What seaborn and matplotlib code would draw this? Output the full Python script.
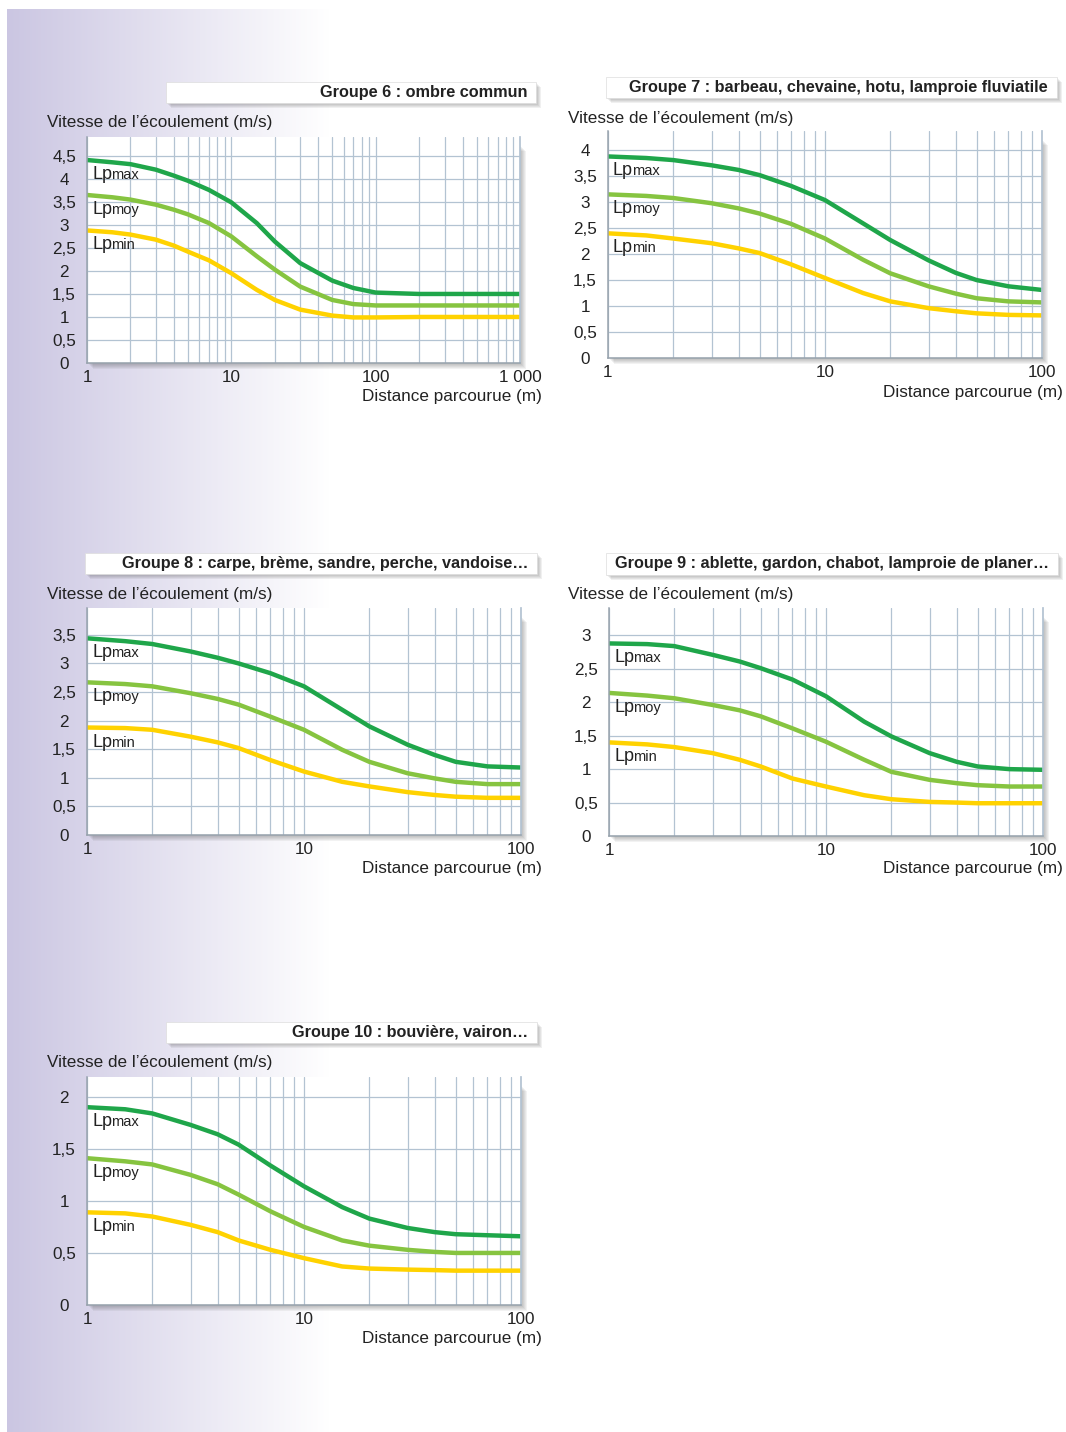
import numpy as np
import matplotlib
matplotlib.use('Agg')
import matplotlib.pyplot as plt
from matplotlib.patches import Rectangle
from matplotlib.ticker import FixedLocator, NullFormatter
import seaborn as sns

# ---- data (speed in m/s vs distance in m) ----
X_1000 = [1, 1.5, 2, 3, 4, 5, 7, 10, 15, 20, 30, 50, 70, 100, 200, 1000]
G6_MAX = [4.41, 4.36, 4.32, 4.20, 4.07, 3.96, 3.76, 3.49, 3.04, 2.64, 2.17, 1.79, 1.63, 1.53, 1.50, 1.50]
G6_MOY = [3.65, 3.60, 3.55, 3.44, 3.33, 3.23, 3.04, 2.75, 2.32, 2.03, 1.66, 1.37, 1.28, 1.25, 1.25, 1.25]
G6_MIN = [2.88, 2.84, 2.79, 2.68, 2.55, 2.42, 2.23, 1.95, 1.59, 1.37, 1.16, 1.03, 0.99, 0.99, 1.00, 1.00]

X_100 = [1, 1.5, 2, 3, 4, 5, 7, 10, 15, 20, 30, 40, 50, 70, 100]
G7_MAX = [3.88, 3.85, 3.81, 3.71, 3.62, 3.52, 3.31, 3.04, 2.59, 2.27, 1.88, 1.64, 1.50, 1.38, 1.31]
G7_MOY = [3.15, 3.12, 3.08, 2.98, 2.88, 2.78, 2.58, 2.30, 1.89, 1.63, 1.38, 1.24, 1.15, 1.09, 1.07]
G7_MIN = [2.40, 2.36, 2.30, 2.21, 2.11, 2.02, 1.80, 1.54, 1.25, 1.09, 0.96, 0.90, 0.86, 0.83, 0.82]

G8_MAX = [3.44, 3.39, 3.34, 3.21, 3.10, 3.00, 2.83, 2.60, 2.19, 1.90, 1.58, 1.40, 1.28, 1.20, 1.18]
G8_MOY = [2.67, 2.64, 2.60, 2.48, 2.38, 2.28, 2.07, 1.84, 1.49, 1.28, 1.08, 0.99, 0.93, 0.89, 0.89]
G8_MIN = [1.88, 1.87, 1.84, 1.72, 1.62, 1.52, 1.31, 1.11, 0.93, 0.85, 0.75, 0.70, 0.67, 0.65, 0.65]

G9_MAX = [2.88, 2.87, 2.84, 2.71, 2.61, 2.51, 2.34, 2.09, 1.71, 1.49, 1.24, 1.11, 1.04, 1.00, 0.99]
G9_MOY = [2.14, 2.10, 2.06, 1.96, 1.88, 1.79, 1.61, 1.41, 1.14, 0.96, 0.84, 0.79, 0.76, 0.74, 0.74]
G9_MIN = [1.40, 1.37, 1.33, 1.24, 1.14, 1.04, 0.86, 0.74, 0.61, 0.55, 0.51, 0.50, 0.49, 0.49, 0.49]

G10_MAX = [1.90, 1.88, 1.84, 1.73, 1.64, 1.54, 1.34, 1.14, 0.94, 0.83, 0.74, 0.70, 0.68, 0.67, 0.66]
G10_MOY = [1.41, 1.38, 1.35, 1.25, 1.16, 1.06, 0.90, 0.75, 0.62, 0.57, 0.53, 0.51, 0.50, 0.50, 0.50]
G10_MIN = [0.89, 0.88, 0.85, 0.77, 0.70, 0.62, 0.53, 0.45, 0.37, 0.35, 0.34, 0.335, 0.33, 0.33, 0.33]

TITLES = ['Groupe 6 : ombre commun',
          'Groupe 7 : barbeau, chevaine, hotu, lamproie fluviatile',
          'Groupe 8 : carpe, brème, sandre, perche, vandoise…',
          'Groupe 9 : ablette, gardon, chabot, lamproie de planer…',
          'Groupe 10 : bouvière, vairon…']
Y_TICK_MAX = [4.5, 4.0, 3.5, 3.0, 2.0]
CURVE_NAMES = ['max', 'moy', 'min']
YLABEL = 'Vitesse de l’écoulement (m/s)'
XLABEL = 'Distance parcourue (m)'

# ---- style ----
sns.set_theme(style='white')
plt.rcParams['font.family'] = ['Liberation Sans', 'DejaVu Sans']
COLORS = ['#1fa64a', '#86c440', '#ffd200']
GRID = '#b3c3d2'
TXT = '#222222'
FS = 12.3

W, H = 1066, 1432
fig = plt.figure(figsize=(W / 100, H / 100), dpi=100)


def fx(x):
    return x / W


def fy(y):
    return 1 - y / H


def shadow(x0, y0, x1, y1, n=6, alpha=0.065):
    # soft drop shadow, offset down/right
    for k in range(1, n + 1):
        fig.add_artist(Rectangle((fx(x0 + k), fy(y1 + k)), (x1 - x0) / W, (y1 - y0) / H,
                                 transform=fig.transFigure, facecolor='#444444',
                                 edgecolor='none', alpha=alpha, zorder=-5))


# lavender background band on the left
bg = fig.add_axes([fx(7), 0, fx(330) - fx(7), fy(9)])
bg.set_zorder(-10)
t = np.linspace(0, 1, 300)
lav = np.array([203, 198, 226]) / 255
grad = lav[None, :] * (1 - t[:, None]) + np.ones(3)[None, :] * t[:, None]
bg.imshow(grad[None, :, :], aspect='auto', extent=[0, 1, 0, 1])
bg.axis('off')

# panel geometry in pixels: axes (left, top, right, bottom), ylim top,
# title box (left, top, right, bottom), ylabel (x, y), xlabel (x, y)
panels = [
    dict(ax=(87, 137, 520, 363), ytop=4.91, box=(166, 82, 536, 103), ylab=(47, 123), xlab=(542, 397),
         x=X_1000, ys=[G6_MAX, G6_MOY, G6_MIN], xmax=1000),
    dict(ax=(608, 131, 1042, 358), ytop=4.37, box=(606, 77, 1057, 98), ylab=(568, 118), xlab=(1063, 392),
         x=X_100, ys=[G7_MAX, G7_MOY, G7_MIN], xmax=100),
    dict(ax=(87, 608, 521, 835), ytop=3.97, box=(85, 553, 537, 574), ylab=(47, 595), xlab=(542, 868),
         x=X_100, ys=[G8_MAX, G8_MOY, G8_MIN], xmax=100),
    dict(ax=(609, 608, 1043, 836), ytop=3.41, box=(606, 553, 1058, 575), ylab=(568, 595), xlab=(1063, 868),
         x=X_100, ys=[G9_MAX, G9_MOY, G9_MIN], xmax=100),
    dict(ax=(87, 1077, 521, 1305), ytop=2.19, box=(166, 1022, 537, 1043), ylab=(47, 1063), xlab=(542, 1338),
         x=X_100, ys=[G10_MAX, G10_MOY, G10_MIN], xmax=100),
]

for i, p in enumerate(panels):
    l, tp, r, b = p['ax']
    shadow(l, tp + 8, r, b, n=6)
    ax = fig.add_axes([fx(l), fy(b), (r - l) / W, (b - tp) / H])
    ax.set_facecolor('white')
    ax.set_xscale('log')
    ax.set_xlim(1, p['xmax'])
    ax.set_ylim(0, p['ytop'])

    majors = [1, 10, 100] + ([1000] if p['xmax'] == 1000 else [])
    minors = [m * d for d in majors[:-1] for m in range(2, 10)]
    ax.xaxis.set_major_locator(FixedLocator(majors))
    ax.xaxis.set_minor_locator(FixedLocator(minors))
    ax.xaxis.set_minor_formatter(NullFormatter())
    ax.set_xticklabels(['1', '10', '100', '1 000'][:len(majors)])
    yt = np.arange(0, Y_TICK_MAX[i] + 0.01, 0.5)
    ax.set_yticks(yt)
    ax.set_yticklabels([f'{v:g}'.replace('.', ',') for v in yt])

    ax.grid(True, which='both', axis='x', color=GRID, lw=0.9)
    ax.grid(True, which='major', axis='y', color=GRID, lw=0.9)
    ax.set_axisbelow(True)
    ax.tick_params(which='both', length=0, labelsize=FS, labelcolor=TXT)
    ax.tick_params(axis='x', pad=5)
    ax.tick_params(axis='y', pad=16.5)
    for lab in ax.get_yticklabels():
        lab.set_ha('center')
    ax.spines['top'].set_visible(False)
    ax.spines['right'].set_color(GRID)
    for s in ['left', 'bottom']:
        ax.spines[s].set_color('#98a3ad')
        ax.spines[s].set_linewidth(1.1)

    for ys, c, name in zip(p['ys'], COLORS, CURVE_NAMES):
        sns.lineplot(x=p['x'], y=ys, ax=ax, color=c, linewidth=3.2, sort=False,
                     solid_capstyle='butt', solid_joinstyle='round', clip_on=False)
        ax.annotate('Lp', xy=(1, ys[0]), xytext=(5, -19), textcoords='offset pixels',
                    fontsize=13, color=TXT, ha='left', va='baseline')
        ax.annotate(name, xy=(1, ys[0]), xytext=(24, -19), textcoords='offset pixels',
                    fontsize=10.5, color=TXT, ha='left', va='baseline')
    ax.set_xlabel('')
    ax.set_ylabel('')

    # title box
    bl, bt, br, bb = p['box']
    shadow(bl, bt, br, bb, n=5, alpha=0.08)
    fig.add_artist(Rectangle((fx(bl), fy(bb)), (br - bl) / W, (bb - bt) / H,
                             transform=fig.transFigure, facecolor='white',
                             edgecolor='#dddddd', lw=0.5, zorder=1))
    fig.text(fx(br - 9), fy((bt + bb) / 2), TITLES[i], ha='right', va='center',
             fontsize=11.7, fontweight='bold', color=TXT, zorder=2)

    fig.text(fx(p['ylab'][0]), fy(p['ylab'][1]), YLABEL, ha='left', va='center',
             fontsize=FS, color=TXT)
    fig.text(fx(p['xlab'][0]), fy(p['xlab'][1]), XLABEL, ha='right', va='center',
             fontsize=FS, color=TXT)

fig.savefig('out.png', dpi=100)
